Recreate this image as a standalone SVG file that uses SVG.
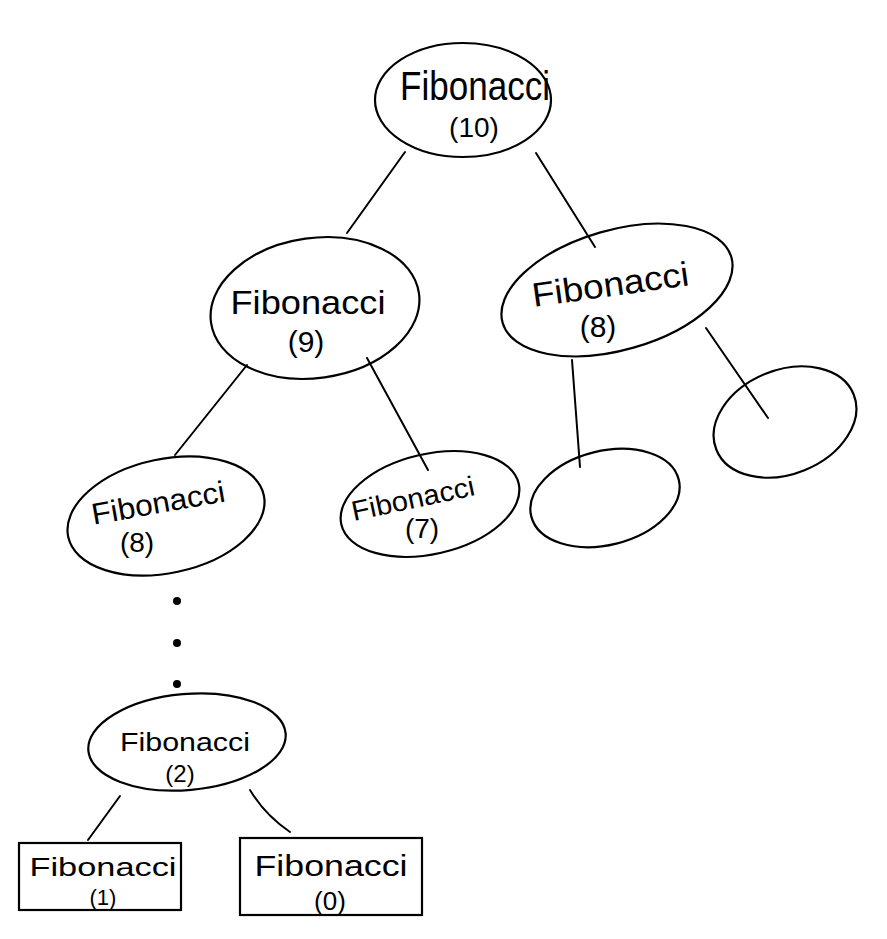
<svg xmlns="http://www.w3.org/2000/svg" width="887" height="939" viewBox="0 0 887 939">
<style>
.n{fill:#fff;stroke:#000;stroke-width:2.2}
.c{fill:none;stroke:#000;stroke-width:2;stroke-linecap:round}
.t{font-family:"Liberation Sans","DejaVu Sans",sans-serif;fill:#000;text-anchor:middle}
</style>
<rect width="887" height="939" fill="#fff"/>
<g id="fib10">
<ellipse class="n" cx="463" cy="100" rx="88" ry="57"/>
<text class="t" x="475" y="100" font-size="40" textLength="150" lengthAdjust="spacingAndGlyphs">Fibonacci</text>
<text class="t" x="474" y="137" font-size="28">(10)</text>
</g>
<g id="fib9">
<ellipse class="n" cx="315" cy="308" rx="105" ry="70" transform="rotate(-8 315 308)"/>
<text class="t" x="308" y="314" font-size="34" textLength="155" lengthAdjust="spacingAndGlyphs">Fibonacci</text>
<text class="t" x="306" y="352" font-size="30">(9)</text>
</g>
<g id="fib8a">
<ellipse class="n" cx="617" cy="290" rx="119" ry="60" transform="rotate(-16 617 290)"/>
<text class="t" x="612" y="296" font-size="34" textLength="158" lengthAdjust="spacingAndGlyphs" transform="rotate(-8 612 296)">Fibonacci</text>
<text class="t" x="598" y="337" font-size="30">(8)</text>
</g>
<g id="fib8b">
<ellipse class="n" cx="166" cy="516" rx="100" ry="57" transform="rotate(-12 166 516)"/>
<text class="t" x="160" y="513" font-size="30" textLength="135" lengthAdjust="spacingAndGlyphs" transform="rotate(-10 160 513)">Fibonacci</text>
<text class="t" x="137" y="552" font-size="28">(8)</text>
</g>
<g id="fib7">
<ellipse class="n" cx="430" cy="504" rx="91" ry="50" transform="rotate(-13 430 504)"/>
<text class="t" x="415" y="508" font-size="28" textLength="125" lengthAdjust="spacingAndGlyphs" transform="rotate(-12 415 508)">Fibonacci</text>
<text class="t" x="422" y="538" font-size="28">(7)</text>
</g>
<g id="fib6">
<ellipse class="n" cx="605" cy="498" rx="76" ry="47" transform="rotate(-14 605 498)"/>
</g>
<g id="fib7b">
<ellipse class="n" cx="785" cy="422" rx="74" ry="52" transform="rotate(-22 785 422)"/>
</g>
<g id="fib2">
<ellipse class="n" cx="187" cy="742" rx="99" ry="48" transform="rotate(-5 187 742)"/>
<text class="t" x="185" y="751" font-size="26" textLength="130" lengthAdjust="spacingAndGlyphs">Fibonacci</text>
<text class="t" x="180" y="782" font-size="24">(2)</text>
</g>
<g id="fib1">
<rect class="n" x="19" y="843" width="162" height="67"/>
<text class="t" x="103" y="876" font-size="26" textLength="147" lengthAdjust="spacingAndGlyphs">Fibonacci</text>
<text class="t" x="103" y="905" font-size="22">(1)</text>
</g>
<g id="fib0">
<rect class="n" x="240" y="838" width="182" height="77"/>
<text class="t" x="331" y="876" font-size="30" textLength="153" lengthAdjust="spacingAndGlyphs">Fibonacci</text>
<text class="t" x="330" y="910" font-size="26">(0)</text>
</g>
<g id="connectors">
<path class="c" d="M405 152 L347 233"/>
<path class="c" d="M536 153 L595 247"/>
<path class="c" d="M247 365 L175 455"/>
<path class="c" d="M367 358 L428 470"/>
<path class="c" d="M572 360 L580 467"/>
<path class="c" d="M706 328 L768 418"/>
<path class="c" d="M120 796 L88 840"/>
<path class="c" d="M250 790 Q265 815 290 832"/>
</g>
<g id="dots">
<circle cx="177" cy="601" r="4"/>
<circle cx="177" cy="643" r="4"/>
<circle cx="177" cy="684" r="4"/>
</g>
</svg>
